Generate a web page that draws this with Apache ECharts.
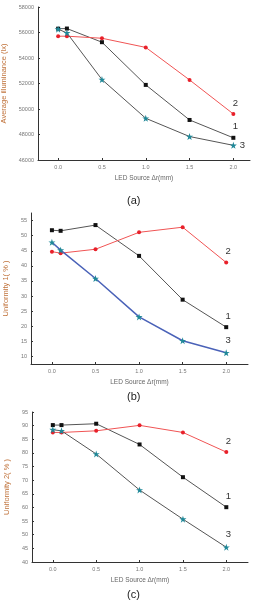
<!DOCTYPE html>
<html>
<head>
<meta charset="utf-8">
<script src="https://cdn.jsdelivr.net/npm/echarts@6/dist/echarts.min.js"></script>
<style>
  html, body { margin: 0; padding: 0; background: #fff; }
  #chart { width: 256px; height: 600px; }
</style>
</head>
<body>
<div id="chart"></div>
<script>
// LED source offset (mm)
const xVals = [0.0, 0.1, 0.5, 1.0, 1.5, 2.0];
const xTicks = [0, 0.5, 1.0, 1.5, 2.0];

// (a) average illuminance (lx)
const illum1 = [56300, 56310, 55240, 51890, 49140, 47740];
const illum2 = [55710, 55710, 55550, 54830, 52280, 49610];
const illum3 = [56260, 55970, 52310, 49270, 47840, 47150];

// (b) uniformity 1 (%)
const unifA1 = [51.8, 51.6, 53.5, 43.3, 28.8, 19.7];
const unifA2 = [44.7, 44.2, 45.5, 51.1, 52.8, 41.1];
const unifA3 = [47.8, 45.2, 35.8, 23.1, 15.2, 11.2];
const unifATicks = [10, 15, 20, 25, 30, 35, 40, 45, 50, 55];

// (c) uniformity 2 (%)
const unifB1 = [90.2, 90.2, 90.7, 83.1, 71.1, 60.1];
const unifB2 = [87.5, 87.5, 88.1, 90.1, 87.5, 80.3];
const unifB3 = [88.5, 88.1, 79.6, 66.4, 55.7, 45.4];

const seriesNames = ['1', '2', '3'];
const captions = ['(a)', '(b)', '(c)'];

const star = 'path://M12,0 L14.9,8.6 L24,8.6 L16.6,14 L19.4,22.8 L12,17.4 L4.6,22.8 L7.4,14 L0,8.6 L9.1,8.6 Z';

const chart = echarts.init(document.getElementById('chart'));

// fixed plot boxes, no auto shrink for overflowing names
const grids = [
  { left: 38, top: 7, width: 212, height: 153 },
  { left: 31, top: 213, width: 217, height: 151 },
  { left: 32, top: 412, width: 216, height: 150 }
].map(g => Object.assign({ outerBoundsMode: 'none', containLabel: false }, g));

const xRanges = [[-0.23, 2.19], [-0.24, 2.25], [-0.24, 2.25]];

const axisLine = { onZero: false, lineStyle: { color: '#333', width: 1 } };
const labelStyle = { fontSize: 5.5, color: '#777', fontFamily: 'Liberation Sans' };

function xAxisFor(i) {
  return {
    type: 'value', gridIndex: i,
    min: xRanges[i][0], max: xRanges[i][1],
    name: 'LED Source \u0394r(mm)',
    nameLocation: 'middle', nameGap: 15,
    nameTextStyle: { fontSize: 6.5, color: '#666', fontFamily: 'Liberation Sans' },
    axisLine: axisLine,
    axisTick: { inside: true, length: 2, customValues: xTicks, lineStyle: { color: '#333' } },
    axisLabel: Object.assign({ margin: 4, customValues: xTicks, formatter: v => v.toFixed(1) }, labelStyle),
    splitLine: { show: false }
  };
}

const yAxes = [
  {
    type: 'value', gridIndex: 0, min: 46000, max: 58000, interval: 2000,
    name: 'Average illuminance (lx)', nameGap: 29
  },
  {
    type: 'value', gridIndex: 1, min: 7.5, max: 57.5,
    name: 'Uniformity 1( % )', nameGap: 14,
    axisTick: { inside: true, length: 2, customValues: unifATicks, lineStyle: { color: '#333' } },
    axisLabel: Object.assign({ margin: 4, customValues: unifATicks, formatter: v => String(v) }, labelStyle)
  },
  {
    type: 'value', gridIndex: 2, min: 40, max: 95, interval: 5,
    name: 'Uniformity 2( % )', nameGap: 14
  }
].map(a => Object.assign({
  nameLocation: 'middle', nameRotate: 90,
  nameTextStyle: { fontSize: 7.5, color: '#c0723a', fontFamily: 'Liberation Sans' },
  axisLine: Object.assign({ show: true }, axisLine),
  axisTick: { inside: true, length: 2, lineStyle: { color: '#333' } },
  axisLabel: Object.assign({ margin: 4, formatter: v => String(v) }, labelStyle),
  splitLine: { show: false }
}, a));

const panels = [
  [illum1, illum2, illum3],
  [unifA1, unifA2, unifA3],
  [unifB1, unifB2, unifB3]
];

const styles = [
  { line: '#555', mark: '#111', symbol: 'rect', size: 4 },
  { line: '#f05454', mark: '#e8202a', symbol: 'circle', size: 4 },
  { line: '#555', mark: '#1f8898', symbol: star, size: 7 }
];

const series = [];
panels.forEach((sets, p) => {
  sets.forEach((vals, k) => {
    const st = styles[k];
    const lineColor = (p === 1 && k === 2) ? '#4a62b8' : st.line;
    const data = vals.map((v, j) => {
      const item = { value: [xVals[j], v] };
      if (j === vals.length - 1) {
        const rightOf = p === 0 && k === 2;
        item.label = {
          show: true, formatter: seriesNames[k],
          position: rightOf ? 'right' : 'top',
          distance: rightOf ? 3 : 4,
          offset: rightOf ? [0, 0] : [2, 0],
          fontSize: 9.5, color: '#333', fontFamily: 'Liberation Sans'
        };
      }
      return item;
    });
    series.push({
      type: 'line', xAxisIndex: p, yAxisIndex: p,
      data: data,
      symbol: st.symbol, symbolSize: st.size,
      itemStyle: { color: st.mark },
      lineStyle: { color: lineColor, width: (p === 1 && k === 2) ? 1.5 : 1 },
      animation: false
    });
  });
});

const title = captions.map((c, i) => ({
  text: c, left: 122, top: [190, 386, 584][i],
  textStyle: { fontSize: 11, fontWeight: 'normal', color: '#222', fontFamily: 'Liberation Sans' }
}));

chart.setOption({
  animation: false,
  title: title,
  grid: grids,
  xAxis: [0, 1, 2].map(xAxisFor),
  yAxis: yAxes,
  series: series
});
</script>
</body>
</html>
